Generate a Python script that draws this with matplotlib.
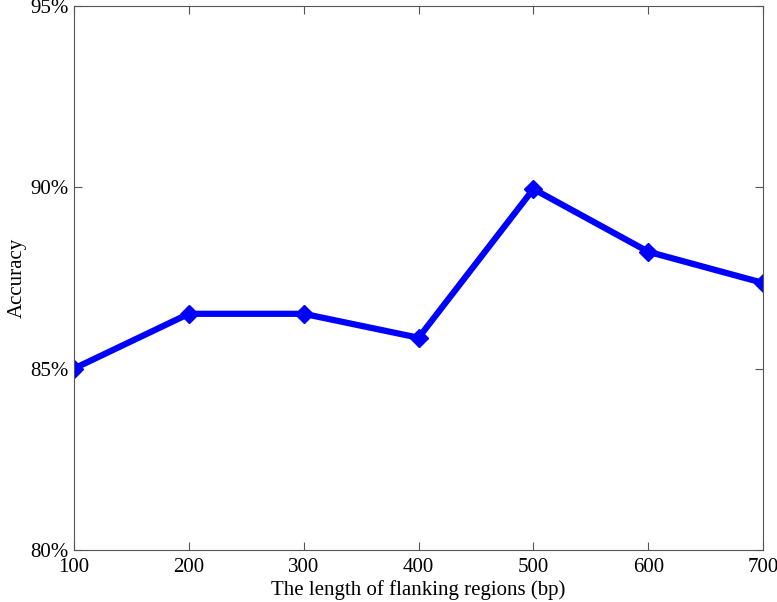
import matplotlib
matplotlib.use("Agg")
import matplotlib.pyplot as plt
from matplotlib.ticker import FuncFormatter

# ─── DATA ─────────────────────────────────────────────────
lengths = [100, 200, 300, 400, 500, 600, 700]
accuracy = [85.0, 86.51, 86.51, 85.85, 89.95, 88.22, 87.36]
y_ticks = [80, 85, 90, 95]

plt.rcParams['font.family'] = ['Liberation Serif', 'DejaVu Serif']

fig = plt.figure(figsize=(7.77, 6.02), dpi=100)
ax = fig.add_axes([0.0952, 0.0864, 0.887, 0.904])

ax.plot(lengths, accuracy, color='#0000FF', linewidth=4.5,
        marker='D', markersize=9, markerfacecolor='#0000FF',
        markeredgecolor='#0000FF')

ax.set_xlim(100, 700)
ax.set_ylim(80, 95)
ax.set_xticks(lengths)
ax.set_yticks(y_ticks)
ax.yaxis.set_major_formatter(FuncFormatter(lambda v, p: f"{v:.0f}%"))

ax.tick_params(direction='in', length=6, width=0.8, color='#555555',
               labelsize=15, top=True, right=True, pad=4)
ax.tick_params(axis='x', pad=6)
for s in ax.spines.values():
    s.set_color('#555555')
    s.set_linewidth(0.8)

ax.set_xlabel('The length of flanking regions (bp)', fontsize=15, labelpad=2)
ax.set_ylabel('Accuracy', fontsize=15, labelpad=2)

fig.savefig('out.png', dpi=100)
